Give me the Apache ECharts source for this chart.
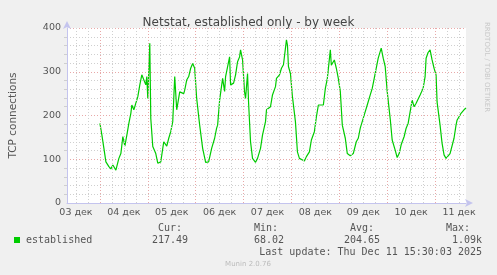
<!DOCTYPE html>
<html><head><meta charset="utf-8">
<script src="https://cdn.jsdelivr.net/npm/echarts@6/dist/echarts.min.js"></script>
<style>html,body{margin:0;padding:0;background:#f0f0f0}#c{width:497px;height:275px}</style>
</head><body><div id="c"></div>
<script>
// ---- data (hours since 03 дек 00:00) ----
const chartTitle = 'Netstat, established only - by week';
const yAxisName = 'TCP connections';
const dayLabels = ['03 дек','04 дек','05 дек','06 дек','07 дек','08 дек','09 дек','10 дек','11 дек'];
const yTickValues = [0, 100, 200, 300, 400];
const hours = [24,25,26,27,28.5,29.5,30.5,32,33.5,34.5,35,35.5,36.5,37.5,38.5,39.5,40,41,42,43,44,45,46,47,47.5,48,49,49.5,50.5,52,53,54.5,56,57.5,58.5,59.5,60.5,61.5,62.5,63,64,65,66,66.5,67.5,68.5,69.5,70.5,71.5,72.5,74,75.5,77,78.5,80,81.5,82.5,83,84,85,85.5,86.5,87,88,89,89.5,91,92,93,94,94.5,95.5,96.5,97,98,98.5,99.5,100.5,102,103,104.5,105.5,107,107.5,109.5,110.5,112,112.5,114,115,116,117,117.5,118,118.5,119.5,120.5,122,123,124,125,126.5,127.5,129,130,131.5,132.5,133.5,134.5,136,137,138,139.5,140,141.5,142.5,143.5,144.5,145.5,147,148,149.5,151,152.5,153.5,154.5,155.5,157,158,159.5,160.5,161.5,162.5,163.5,164.5,165,166,167,168,169.5,170.5,172,173,174,175,176.5,177.5,178.5,179.5,180.5,181.5,182.5,183.5,184.5,186,187,187.5,188.5,189.5,190.5,191.5,192.5,193,194.5,195.5,196.5,197.5,198.5,199.5,200.5,201.5,202.5,203,204,205,206.5,207,207.5];
const established = [182,155,125,94,83,78,87,75,102,113,110,152,130,155,182,205,224,213,228,243,270,293,296,270,289,239,365,193,129,113,91,94,140,130,148,163,186,289,213,216,254,258,250,258,281,289,308,319,308,239,178,125,93,94,125,148,171,178,235,231,285,255,289,285,334,270,274,293,323,334,350,327,254,239,296,231,140,102,93,102,125,155,186,213,220,247,266,285,293,308,316,354,373,361,312,296,243,186,117,102,106,96,106,117,144,163,197,224,228,224,262,285,350,315,327,308,285,255,178,148,113,108,113,140,148,171,175,209,224,247,262,285,289,331,334,354,331,312,255,193,144,121,104,113,133,152,171,182,186,235,220,228,231,247,262,289,331,344,350,327,308,293,231,178,137,110,102,104,113,117,148,178,189,193,205,213,216,217];
const legendName = 'established';
const statHeads = ['Cur:', 'Min:', 'Avg:', 'Max:'];
const statValues = ['217.49', '68.02', '204.65', '1.09k'];
const lastUpdate = 'Last update: Thu Dec 11 15:30:03 2025';
const footer = 'Munin 2.0.76';
const sideText = 'RRDTOOL / TOBI OETIKER';
const xMin = 7.5, xMax = 207.5;

// grid positions derived from the axis range
const midnights = [], minors = [], noons = [];
for (let h = 6; h <= xMax; h += 6) {
  if (h < xMin) continue;
  if (h % 24 === 0) midnights.push(h); else minors.push(h);
  if (h % 24 === 12) noons.push(h);
}

const mono = '"DejaVu Sans Mono", monospace';
const sans = '"DejaVu Sans", sans-serif';
const txtCol = '#555';

const markData = [];
minors.forEach(h => markData.push({ xAxis: h, lineStyle: { color: '#cfcfcf', type: [1, 2], width: 1 } }));
midnights.forEach(h => markData.push({ xAxis: h, lineStyle: { color: '#e8a8a8', type: [1, 2], width: 1 } }));

const chart = echarts.init(document.getElementById('c'), null, { renderer: 'canvas' });
chart.setOption({
  backgroundColor: '#f0f0f0',
  animation: false,
  title: {
    text: chartTitle, left: 'center', top: 12,
    textStyle: { fontFamily: sans, fontSize: 12, fontWeight: 'normal', color: '#444' }
  },
  grid: { left: 66, right: 31, top: 28, bottom: 72, show: true, backgroundColor: '#ffffff', borderWidth: 0 },
  xAxis: {
    type: 'value', min: xMin, max: xMax,
    axisLine: { show: true, lineStyle: { color: '#c4c4ee', width: 1 }, symbol: ['none', 'arrow'], symbolSize: [6, 8], symbolOffset: [0, 7] },
    axisTick: { show: false },
    splitLine: { show: false },
    axisLabel: {
      customValues: noons, margin: 5,
      fontFamily: sans, fontSize: 9.5, color: txtCol,
      formatter: v => dayLabels[Math.round((v - 12) / 24)]
    }
  },
  yAxis: {
    type: 'value', min: yTickValues[0], max: yTickValues[yTickValues.length - 1], interval: 100,
    name: yAxisName, nameLocation: 'middle', nameGap: 48,
    nameTextStyle: { fontFamily: sans, fontSize: 10.5, color: txtCol },
    axisLine: { show: true, lineStyle: { color: '#c4c4ee', width: 1 }, symbol: ['none', 'arrow'], symbolSize: [6, 8], symbolOffset: [0, 7] },
    axisTick: { show: false },
    minorTick: { show: true, splitNumber: 5, length: 3, lineStyle: { color: '#cfcfcf' } },
    axisLabel: { margin: 6, fontFamily: sans, fontSize: 9.5, color: txtCol },
    splitLine: { show: true, lineStyle: { color: '#e8a8a8', type: [1, 2], width: 1 } },
    minorSplitLine: { show: true, lineStyle: { color: '#cfcfcf', type: [1, 2], width: 1 } }
  },
  series: [
    {
      type: 'line', z: 1, silent: true, data: [[xMin, null]], symbol: 'none',
      markLine: { silent: true, symbol: 'none', label: { show: false }, animation: false, data: markData }
    },
    {
      name: legendName, type: 'line', z: 3, symbol: 'none', showSymbol: false,
      lineStyle: { color: '#00cc00', width: 1.2 },
      data: hours.map((h, i) => [h, established[i]])
    }
  ],
  graphic: [
    { type: 'rect', shape: { x: 14, y: 237, width: 6, height: 6 }, style: { fill: '#00cc00' } },
    { type: 'text', style: { text: legendName, x: 26, y: 240, font: '10px ' + mono, fill: txtCol, verticalAlign: 'middle' } },
    { type: 'text', style: { text: statHeads[0], x: 170, y: 228, font: '10px ' + mono, fill: txtCol, align: 'center', verticalAlign: 'middle' } },
    { type: 'text', style: { text: statHeads[1], x: 266, y: 228, font: '10px ' + mono, fill: txtCol, align: 'center', verticalAlign: 'middle' } },
    { type: 'text', style: { text: statHeads[2], x: 362, y: 228, font: '10px ' + mono, fill: txtCol, align: 'center', verticalAlign: 'middle' } },
    { type: 'text', style: { text: statHeads[3], x: 458, y: 228, font: '10px ' + mono, fill: txtCol, align: 'center', verticalAlign: 'middle' } },
    { type: 'text', style: { text: statValues[0], x: 188, y: 240, font: '10px ' + mono, fill: txtCol, align: 'right', verticalAlign: 'middle' } },
    { type: 'text', style: { text: statValues[1], x: 284, y: 240, font: '10px ' + mono, fill: txtCol, align: 'right', verticalAlign: 'middle' } },
    { type: 'text', style: { text: statValues[2], x: 380, y: 240, font: '10px ' + mono, fill: txtCol, align: 'right', verticalAlign: 'middle' } },
    { type: 'text', style: { text: statValues[3], x: 482, y: 240, font: '10px ' + mono, fill: txtCol, align: 'right', verticalAlign: 'middle' } },
    { type: 'text', style: { text: lastUpdate, x: 482, y: 252, font: '10px ' + mono, fill: txtCol, align: 'right', verticalAlign: 'middle' } },
    { type: 'text', style: { text: footer, x: 248, y: 264, font: '7px ' + sans, fill: '#bbbbbb', align: 'center', verticalAlign: 'middle' } },
    { type: 'text', x: 487, y: 22, rotation: -Math.PI / 2, style: { text: sideText, x: 0, y: 0, font: '7px ' + sans, fill: '#c8c8c8', align: 'left', verticalAlign: 'middle' } }
  ]
});
</script></body></html>
